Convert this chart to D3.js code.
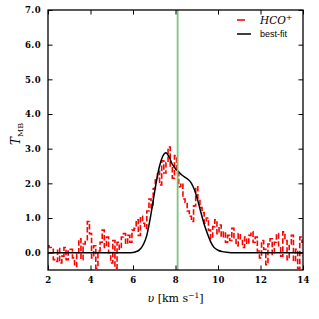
<!DOCTYPE html>
<html>
<head>
<meta charset="utf-8">
<style>
  body { margin: 0; background: #fff; }
  svg { display: block; }
  .tick text { font-family: "DejaVu Serif", serif; font-weight: bold; font-size: 8.5px; letter-spacing: 0.4px; fill: #000; }
</style>
</head>
<body>
<svg></svg>
<script src="https://cdn.jsdelivr.net/npm/d3@7"></script>
<script>
const width = 319, height = 319;
const margin = {top: 10, right: 16, bottom: 49, left: 48};

// HCO+ spectrum, 0.1 km/s channels starting at 2.0
const vStart = 2.0, vStep = 0.1;
const hcoT = [
  0.2, 0.15, 0.1, -0.2, -0.25, 0.12, -0.3, -0.1, 0.15, -0.2,
  0.05, 0.1, -0.15, -0.4, -0.05, 0.4, -0.2, 0.25, 0.35, 0.9,
  0.55, -0.15, 0.2, -0.45, 0.05, 0.3, 0.65, 0.15, 0.45, 0.0,
  -0.3, 0.35, -0.45, 0.3, 0.1, 0.45, 0.55, 0.25, 0.5, 0.3,
  0.65, 0.7, 0.95, 0.5, 1.05, 0.85, 0.7, 1.2, 1.55, 1.3,
  1.85, 2.1, 2.35, 1.95, 2.65, 2.3, 2.6, 3.05, 2.45, 2.15,
  2.8, 2.3, 1.9, 2.0, 1.55, 1.45, 1.2, 1.05, 0.9, 1.35,
  1.9, 1.55, 1.3, 1.15, 0.85, 1.0, 0.65, 0.4, 0.75, 0.95,
  0.55, 0.8, 0.45, 0.6, 0.3, 0.5, 0.35, 0.7, 0.4, 0.2,
  0.55, 0.35, 0.15, 0.45, 0.25, 0.5, 0.6, 0.3, 0.45, 0.05,
  -0.15, 0.35, 0.1, -0.35, 0.25, 0.4, -0.05, 0.3, 0.55, 0.2,
  -0.1, 0.6, 0.35, -0.2, 0.25, 0.5, -0.25, 0.1, -0.45, 0.45,
  0.3
];

// best-fit curve
const fitV = [2.0, 5.9, 6.1, 6.3, 6.5, 6.65, 6.8, 6.95, 7.1, 7.25, 7.4, 7.55, 7.7, 7.85, 8.0,
  8.15, 8.3, 8.45, 8.6, 8.75, 8.9, 9.05, 9.2, 9.35, 9.5, 9.65, 9.8, 10.0, 10.2, 10.4, 10.6, 14.0];
const fitT = [0, 0, 0.02, 0.08, 0.25, 0.5, 0.95, 1.5, 2.05, 2.5, 2.78, 2.88, 2.76, 2.55, 2.42,
  2.33, 2.24, 2.17, 2.11, 2.0, 1.8, 1.5, 1.15, 0.82, 0.55, 0.32, 0.16, 0.07, 0.03, 0.01, 0, 0];

const vLine = 8.1;
const xTicks = [2, 4, 6, 8, 10, 12, 14];
const yTicks = [0, 1, 2, 3, 4, 5, 6, 7];

const svg = d3.select('svg').attr('width', width).attr('height', height);
const x = d3.scaleLinear().domain([2, 14]).range([margin.left, width - margin.right]);
const y = d3.scaleLinear().domain([-0.5, 7]).range([height - margin.bottom, margin.top]);

svg.append('clipPath').attr('id', 'c').append('rect')
  .attr('x', x(2)).attr('y', y(7)).attr('width', x(14) - x(2)).attr('height', y(-0.5) - y(7));

const plot = svg.append('g').attr('clip-path', 'url(#c)');

const spec = hcoT.map((t, i) => [vStart + i * vStep, t]);
plot.append('path')
  .datum(spec)
  .attr('d', d3.line().x(d => x(d[0])).y(d => y(d[1])).curve(d3.curveStep))
  .attr('fill', 'none').attr('stroke', '#ff0000').attr('stroke-width', 1.6)
  .attr('stroke-dasharray', '5.5,2.4');

plot.append('path')
  .datum(fitV.map((v, i) => [v, fitT[i]]))
  .attr('d', d3.line().x(d => x(d[0])).y(d => y(d[1])).curve(d3.curveMonotoneX))
  .attr('fill', 'none').attr('stroke', '#000').attr('stroke-width', 1.5);

plot.append('line')
  .attr('x1', x(vLine)).attr('x2', x(vLine)).attr('y1', y(7)).attr('y2', y(-0.5))
  .attr('stroke', '#7cc47c').attr('stroke-width', 1.8);

// axes, ticks inward
const xMinor = d3.range(2, 15, 1), yMinor = d3.range(-0.4, 7.01, 0.2);
function axis(gen, scale, ticks, minor, tr, fmt, showLabels) {
  const g = svg.append('g').attr('transform', tr);
  g.call(gen(scale).tickValues(minor).tickSize(-2.5).tickFormat(''));
  g.call(gen(scale).tickValues(ticks).tickSize(-4.5).tickPadding(7)
    .tickFormat(showLabels ? fmt : ''));
  g.selectAll('.domain').remove();
  g.selectAll('line').attr('stroke', '#000').attr('stroke-width', 1);
  return g;
}
axis(d3.axisBottom, x, xTicks, xMinor, `translate(0,${y(-0.5)})`, d3.format('d'), true);
axis(d3.axisTop, x, xTicks, xMinor, `translate(0,${y(7)})`, d3.format('d'), false);
axis(d3.axisLeft, y, yTicks, yMinor, `translate(${x(2)},0)`, d3.format('.1f'), true);
axis(d3.axisRight, y, yTicks, yMinor, `translate(${x(14)},0)`, d3.format('.1f'), false);

svg.append('rect')
  .attr('x', x(2)).attr('y', y(7)).attr('width', x(14) - x(2)).attr('height', y(-0.5) - y(7))
  .attr('fill', 'none').attr('stroke', '#000').attr('stroke-width', 1.3);

// axis labels
const xl = svg.append('text').attr('x', (x(2) + x(14)) / 2).attr('y', 302)
  .attr('text-anchor', 'middle').attr('font-family', 'DejaVu Serif, serif').attr('font-size', 11);
xl.append('tspan').attr('font-style', 'italic').text('υ');
xl.append('tspan').text(' [km s');
xl.append('tspan').attr('dy', -4).attr('font-size', 7.5).text('−1');
xl.append('tspan').attr('dy', 4).text(']');

const yl = svg.append('text').attr('transform', `translate(20,${(y(7) + y(-0.5)) / 2 - 6}) rotate(-90)`)
  .attr('text-anchor', 'middle').attr('font-family', 'DejaVu Serif, serif').attr('font-size', 12);
yl.append('tspan').attr('font-style', 'italic').text('T');
yl.append('tspan').attr('dy', 2.5).attr('font-size', 8).text('MB');

// legend
const lg = svg.append('g');
lg.append('line').attr('x1', 237).attr('x2', 245).attr('y1', 20).attr('y2', 20)
  .attr('stroke', '#ff0000').attr('stroke-width', 1.6);
lg.append('line').attr('x1', 237).attr('x2', 251).attr('y1', 34).attr('y2', 34)
  .attr('stroke', '#000').attr('stroke-width', 1.5);
const l1 = lg.append('text').attr('x', 260).attr('y', 24)
  .attr('font-family', 'DejaVu Serif, serif').attr('font-style', 'italic').attr('font-size', 10.5);
l1.append('tspan').text('HCO');
l1.append('tspan').attr('dy', -4.5).attr('font-size', 8).text('+');
lg.append('text').attr('x', 260).attr('y', 37)
  .attr('font-family', 'Liberation Sans, sans-serif').attr('font-size', 9).text('best-fit');
</script>
</body>
</html>
